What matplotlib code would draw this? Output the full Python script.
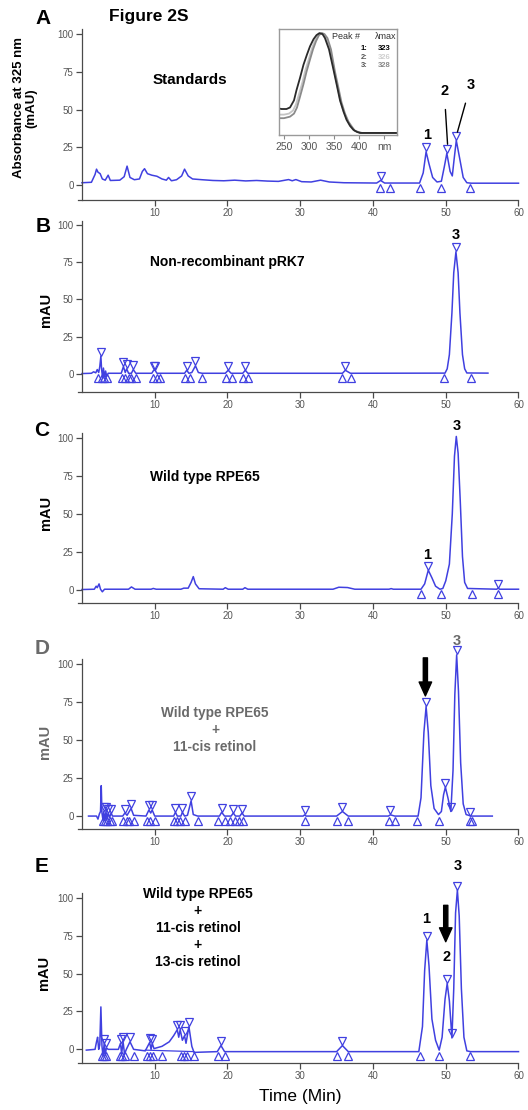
import matplotlib
matplotlib.use("Agg")
import matplotlib.pyplot as plt
from matplotlib.transforms import offset_copy

plt.rcParams["font.family"] = ["Liberation Sans", "DejaVu Sans"]

# ---------------- data ----------------
X_TICKS = [10, 20, 30, 40, 50, 60]
Y_TICKS = [0, 25, 50, 75, 100]

# A - standards
A_TIME = [0.0, 1.3, 1.8, 2.0, 2.2, 2.5, 2.8, 3.2, 3.6, 3.9, 5.2, 5.8, 6.2, 6.6, 7.2, 7.9,
          8.3, 8.6, 9.0, 9.6, 10.3, 11.0, 11.6, 11.9, 12.3, 13.0, 13.7, 14.1, 14.6, 15.2,
          16.5, 18.0, 19.5, 21.0, 22.5, 24.0, 25.5, 27.0, 28.4, 28.9, 29.4, 30.2, 31.5,
          32.8, 34.0, 36.0, 40.5, 41.05, 41.6, 46.4, 46.9, 47.3, 47.7, 48.2, 48.8, 49.4,
          49.8, 50.15, 50.6, 50.9, 51.15, 51.45, 51.9, 52.4, 52.9, 53.5, 60.0]
A_MAU = [1.5, 1.8, 7, 10.5, 8.5, 7.5, 4, 3.2, 6.5, 3, 3.2, 5.5, 12.5, 5, 3.5, 4,
         9, 10.8, 7.5, 6.5, 5.8, 4, 3.2, 5, 2.8, 3.5, 6, 10.5, 6, 4,
         3.5, 3, 2.8, 3.2, 2.7, 3, 2.6, 2.4, 3.6, 2.8, 3.6, 2.2, 2.0,
         3.2, 2.0, 1.5, 1.3, 3, 1.3, 1.3, 8, 22, 14, 5, 2, 2.5,
         12, 21, 9, 6, 17, 29.5, 18, 5, 1.5, 1.2, 1.2]
A_APEX_T = [41.05, 47.3, 50.15, 51.45]
A_APEX_Y = [3, 22, 21, 29.5]
A_BOUND_T = [41.0, 42.4, 46.4, 49.3, 53.3]
A_BASE = 1.3

# B - non-recombinant pRK7
B_TIME = [0.0, 1.3, 1.6, 1.9, 2.1, 2.3, 2.45, 2.6, 2.7, 2.85, 2.95, 3.1, 3.25, 3.4, 3.6,
          5.4, 5.7, 5.95, 6.15, 6.4, 6.8, 7.05, 7.4, 9.6, 9.85, 10.05, 10.3, 14.1, 14.4,
          14.7, 15.1, 15.6, 16.0, 16.5, 19.7, 20.1, 20.5, 22.1, 22.45, 22.8, 35.8, 36.2,
          36.9, 49.9, 50.2, 50.5, 50.85, 51.1, 51.4, 51.7, 51.95, 52.3, 52.6, 52.9, 55.8]
B_MAU = [0.3, 0.5, 1.5, 0.8, 3, 1, 5, 12, 3, -3, 4, -2, 2, -1.5, 0.5,
         0.5, 5, 1, 3.5, 0.5, 0.5, 3, 0.5, 0.5, 2.5, 2.5, 0.5, 0.5, 2.5,
         0.5, 1, 5.5, 1, 0.5, 0.5, 2.5, 0.5, 0.5, 2.5, 0.5, 0.5, 2.5,
         0.5, 0.6, 3.5, 13, 41, 68, 82, 68, 41, 13, 3.5, 0.7, 0.6]
B_APEX_T = [2.6, 5.7, 6.15, 7.05, 9.85, 10.05, 14.4, 15.6, 20.1, 22.45, 36.2, 51.4]
B_APEX_Y = [12, 5, 3.5, 3, 2.5, 2.5, 2.5, 5.5, 2.5, 2.5, 2.5, 82]
B_BOUND_T = [2.25, 2.7, 3.07, 3.4, 5.5, 5.9, 6.4, 6.75, 7.4, 9.7, 10.27, 10.73, 14.2,
             14.9, 16.5, 19.8, 20.6, 22.2, 22.8, 35.8, 37.0, 49.8, 53.5]
B_BASE = 0.5

# C - wild type RPE65
C_TIME = [0.0, 1.7, 1.95, 2.1, 2.35, 2.55, 2.8, 3.1, 6.4, 6.8, 7.3, 9.5, 9.8, 10.2, 13.6,
          14.0, 14.6, 15.0, 15.3, 15.6, 16.1, 19.4, 19.7, 20.1, 22.1, 22.4, 22.8, 34.5,
          35.3, 36.5, 37.5, 42.2, 42.5, 42.8, 46.6, 47.1, 47.6, 48.1, 48.6, 49.2, 49.6,
          50.0, 50.5, 50.9, 51.2, 51.45, 51.7, 52.0, 52.3, 52.6, 53.0, 57.0, 57.2, 57.4, 60.0]
C_MAU = [0.3, 0.5, 2.5, 1.5, 4, 0.5, -1.2, 0.5, 0.5, 2, 0.5, 0.5, 1, 0.5, 0.5,
         1.2, 1.2, 5, 8.8, 4, 0.8, 0.5, 1.5, 0.5, 0.5, 1.5, 0.5, 0.5,
         1.8, 1.6, 0.5, 0.5, 0.9, 0.5, 0.5, 4, 13, 8, 2.5, 0.5, 1,
         6, 17, 50, 88, 101, 90, 58, 22, 5, 1, 0.5, 1.2, 0.5, 0.5]
C_APEX_T = [47.6, 57.2]
C_APEX_Y = [13, 1.2]
C_BOUND_T = [46.6, 49.3, 53.6, 57.2]
C_BASE = 0.5

# D - wild type RPE65 + 11-cis retinol
D_TIME = [0.9, 2.0, 2.2, 2.4, 2.55, 2.65, 2.75, 2.9, 3.0, 3.15, 3.3, 3.45, 3.6, 3.8, 4.0,
          4.2, 5.6, 5.9, 6.2, 6.5, 6.75, 7.1, 8.8, 9.2, 9.45, 9.65, 10.0, 12.6, 12.85,
          13.1, 13.6, 13.8, 14.1, 14.5, 15.0, 15.3, 15.9, 18.9, 19.2, 19.6, 20.5, 20.8,
          21.1, 21.7, 22.0, 22.3, 30.4, 30.6, 30.8, 35.0, 35.8, 36.6, 42.1, 42.4, 43.0,
          46.2, 46.6, 47.0, 47.3, 47.6, 47.95, 48.4, 49.0, 49.4, 49.7, 49.95, 50.3, 50.7,
          51.0, 51.25, 51.5, 51.75, 52.05, 52.4, 52.8, 53.5, 56.4]
D_MAU = [0, 0, -2, 1.5, 3, 20, 2, -3, 3, -3, 3, -2, 2, -1, 2,
         0, 0, 2, 0.5, 3, 5, 0.5, 0, 4, 2, 4, 0, 0, 2.5,
         0, 0, 2.5, 0, 0.5, 10, 1, 0, 0, 2.5, 0, 0, 2,
         0, 0, 2, 0, 0, 0.8, 0, 0, 3, 0, 0, 0.8, 0,
         0, 12, 55, 72, 55, 20, 5, 1, 3, 14, 19, 12, 3,
         30, 80, 106, 82, 35, 8, 1, 0, 0]
D_APEX_T = [3.0, 3.3, 3.6, 4.0, 5.9, 6.75, 9.2, 9.65, 12.85, 13.8, 15.0, 19.2, 20.8,
            22.0, 30.6, 35.8, 42.4, 47.3, 49.95, 50.7, 51.5, 53.3]
D_APEX_Y = [3, 3, 2, 2, 2, 5, 4, 4, 2.5, 2.5, 10, 2.5, 2, 2, 0.8, 3, 0.8, 72, 19, 3,
            106, 0]
D_BOUND_T = [2.9, 3.2, 3.5, 3.9, 4.1, 5.7, 6.2, 6.4, 7.1, 8.9, 9.4, 10.0, 12.6, 13.1,
             13.5, 14.1, 15.9, 18.7, 19.7, 20.3, 21.0, 21.6, 22.2, 30.6, 35.1, 36.5,
             42.2, 43.0, 46.1, 49.1, 53.3, 53.6]
D_BASE = 0.0

# E - wild type RPE65 + 11-cis retinol + 13-cis retinol
E_TIME = [0.6, 1.8, 2.0, 2.15, 2.3, 2.45, 2.6, 2.75, 2.9, 3.05, 3.2, 3.35, 3.6, 5.0,
          5.3, 5.45, 5.65, 5.85, 6.1, 6.6, 7.1, 8.7, 9.3, 9.5, 9.65, 9.9, 11.0, 12.0,
          12.6, 13.1, 13.3, 13.5, 13.8, 14.1, 14.3, 14.7, 15.1, 15.4, 18.6, 19.1, 19.6,
          35.0, 35.8, 36.6, 46.3, 46.8, 47.1, 47.4, 47.7, 48.1, 48.6, 49.1, 49.5, 49.9,
          50.2, 50.5, 50.85, 51.1, 51.35, 51.6, 51.85, 52.15, 52.5, 52.9, 53.4, 60.0]
E_MAU = [-0.5, 0, 5, 8, 0, 3, 28, 2, -4.5, 4, -4, 1, 0, 0,
         4, -3, 5, -3, 0, 5, 0, -1, 4.5, 0, 4, 0.5, 2, 5,
         9, 13, 8, 13, 6, 9, 4, 15, 2, -2, -1.5, 2.5, -1.5,
         -1.5, 2.5, -1.5, -1.5, 15, 52, 72, 55, 20, 6, -0.5, 8, 33,
         43.5, 32, 7.5, 40, 90, 105, 88, 40, 8, -1, -1.5, -1.5]
E_BASE_T = [8.7, 15.4]
E_BASE_Y = [-0.5, -1.5]
E_APEX_T = [3.05, 3.3, 5.3, 5.65, 6.6, 9.3, 9.65, 13.1, 13.5, 14.1, 14.7, 19.1, 35.8,
            47.4, 50.2, 50.85, 51.6]
E_APEX_Y = [4, 1, 4, 5, 5, 4.5, 4, 13, 13, 9, 15, 2.5, 2.5, 72, 43.5, 7.5, 105]
E_BOUND_T = [2.8, 3.0, 3.3, 5.2, 5.5, 5.9, 7.1, 8.9, 9.4, 9.8, 11.0, 13.6, 14.0, 14.4,
             15.4, 18.7, 19.6, 35.0, 36.6, 46.4, 49.1, 53.4]
E_BASE = -1.5

# inset: UV spectra of the three standards
SPEC1_NM = [240, 245, 255, 262, 270, 275, 282, 289, 296, 302, 309, 315, 321, 327, 332,
            340, 349, 356, 362, 369, 375, 382, 389, 396, 402, 420, 476]
SPEC1_ABS = [0.26, 0.255, 0.255, 0.27, 0.34, 0.44, 0.56, 0.69, 0.79, 0.87, 0.94, 0.98,
             1.0, 0.99, 0.95, 0.84, 0.64, 0.48, 0.34, 0.23, 0.15, 0.09, 0.05, 0.03,
             0.02, 0.02, 0.02]
SPEC2_NM = [240, 250, 260, 268, 274, 280, 287, 293, 300, 306, 312, 318, 324, 329, 335,
            342, 350, 357, 363, 370, 377, 384, 390, 397, 404, 420, 476]
SPEC2_ABS = [0.2, 0.2, 0.21, 0.24, 0.3, 0.4, 0.52, 0.64, 0.75, 0.85, 0.93, 0.98, 1.0,
             0.99, 0.95, 0.84, 0.63, 0.47, 0.33, 0.22, 0.14, 0.08, 0.045, 0.03, 0.02,
             0.02, 0.02]
SPEC3_NM = [240, 250, 262, 270, 276, 282, 289, 295, 302, 308, 314, 320, 326, 331, 337,
            344, 352, 359, 365, 372, 379, 386, 392, 399, 406, 420, 476]
SPEC3_ABS = [0.165, 0.165, 0.18, 0.21, 0.27, 0.375, 0.5, 0.62, 0.74, 0.84, 0.92, 0.98,
             1.0, 0.99, 0.95, 0.84, 0.62, 0.46, 0.32, 0.21, 0.13, 0.08, 0.04, 0.03,
             0.02, 0.02, 0.02]
INSET_TICKS = [250, 300, 350, 400, 450]
INSET_LABELS = ["250", "300", "350", "400", "nm"]
INSET_ROWS = [("1:", "323"), ("2:", "326"), ("3:", "328")]

# ---------------- figure ----------------
W, H = 528, 1110
BLUE = "#4040e0"
AXC = "#4a4a4a"
GREY_TXT = "#6a6a6a"

fig = plt.figure(figsize=(W / 100, H / 100), dpi=100)


def fxy(px, py):
    return px / W, 1 - py / H


def axes_px(left, top, right, bottom):
    return fig.add_axes([left / W, 1 - bottom / H, (right - left) / W, (bottom - top) / H])


def style_axes(ax, ybot):
    ax.set_xlim(-0.6, 60)
    ax.set_ylim(ybot, 103)
    ax.patch.set_visible(False)
    for s in ("top", "right"):
        ax.spines[s].set_visible(False)
    ax.spines["left"].set_position(("data", 0))
    for s in ("left", "bottom"):
        ax.spines[s].set_color(AXC)
        ax.spines[s].set_linewidth(0.9)
    ax.set_xticks(X_TICKS)
    ax.set_yticks(Y_TICKS)
    ax.tick_params(direction="out", length=4, width=0.9, colors=AXC,
                   labelsize=7, pad=2)
    for lab in ax.get_xticklabels() + ax.get_yticklabels():
        lab.set_color("#555555")


def draw_trace(ax, t, y, apex_t, apex_y, bound_t, base):
    ax.plot(t, y, color=BLUE, lw=1.1, clip_on=False)
    up = offset_copy(ax.transData, fig=fig, y=4.5, units="dots")
    down = offset_copy(ax.transData, fig=fig, y=-4.5, units="dots")
    ax.plot(apex_t, apex_y, "v", ms=5.3, mfc="none", mec=BLUE, mew=0.9,
            transform=up, clip_on=False)
    ax.plot(bound_t, [base] * len(bound_t), "^", ms=5.3, mfc="none", mec=BLUE,
            mew=0.9, transform=down, clip_on=False)


def peak_label(ax, txt, x, y, color="black"):
    ax.text(x, y, txt, ha="center", va="center", fontsize=10.5, fontweight="bold",
            color=color, clip_on=False)


def down_arrow(ax, x, y0, y1):
    ax.annotate("", xy=(x, y1), xytext=(x, y0), annotation_clip=False,
                arrowprops=dict(facecolor="black", edgecolor="black", width=3,
                                headwidth=9, headlength=10, shrink=0))


# panel rectangles in pixels (left, top, right, bottom) and y-axis bottom
layout = [
    ((77.6, 29.5, 518.5, 200.1), -10),
    ((77.6, 220.5, 518.5, 391.9), -12),
    ((77.6, 433.4, 518.5, 602.9), -8.5),
    ((77.6, 659.4, 518.5, 829.0), -8.5),
    ((77.6, 893.2, 518.5, 1063.0), -9),
]
traces = [
    (A_TIME, A_MAU, A_APEX_T, A_APEX_Y, A_BOUND_T, A_BASE),
    (B_TIME, B_MAU, B_APEX_T, B_APEX_Y, B_BOUND_T, B_BASE),
    (C_TIME, C_MAU, C_APEX_T, C_APEX_Y, C_BOUND_T, C_BASE),
    (D_TIME, D_MAU, D_APEX_T, D_APEX_Y, D_BOUND_T, D_BASE),
    (E_TIME, E_MAU, E_APEX_T, E_APEX_Y, E_BOUND_T, E_BASE),
]

axes = []
for (rect, ybot), tr in zip(layout, traces):
    ax = axes_px(*rect)
    style_axes(ax, ybot)
    draw_trace(ax, *tr)
    axes.append(ax)

axA, axB, axC, axD, axE = axes

# integration baseline under the hump in E
axE.plot(E_BASE_T, E_BASE_Y, color=BLUE, lw=0.9)

# peak labels and arrows
peak_label(axA, "1", 47.4, 33)
axA.annotate("2", xy=(50.25, 27), xytext=(49.8, 62), ha="center", va="center",
             fontsize=10.5, fontweight="bold",
             arrowprops=dict(arrowstyle="-", lw=1, color="black", shrinkA=6, shrinkB=0))
axA.annotate("3", xy=(51.6, 35), xytext=(53.4, 66), ha="center", va="center",
             fontsize=10.5, fontweight="bold",
             arrowprops=dict(arrowstyle="-", lw=1, color="black", shrinkA=6, shrinkB=0))
peak_label(axB, "3", 51.4, 93)
peak_label(axC, "1", 47.5, 23)
peak_label(axC, "3", 51.45, 108)
peak_label(axD, "3", 51.5, 115, color=GREY_TXT)
down_arrow(axD, 47.2, 104, 79)
peak_label(axE, "1", 47.3, 86)
peak_label(axE, "2", 50.1, 61)
peak_label(axE, "3", 51.6, 121)
down_arrow(axE, 50.0, 95, 71)

# inset spectra
ins = axes_px(279, 29, 397, 135)
ins.plot(SPEC2_NM, SPEC2_ABS, color="#c4c4c4", lw=1.3)
ins.plot(SPEC3_NM, SPEC3_ABS, color="#8a8a8a", lw=1.3)
ins.plot(SPEC1_NM, SPEC1_ABS, color="#2a2a2a", lw=1.3)
ins.set_xlim(240, 476)
ins.set_ylim(0, 1.04)
ins.set_yticks([])
ins.set_xticks(INSET_TICKS)
ins.set_xticklabels(INSET_LABELS)
ins.tick_params(axis="x", direction="out", length=3, width=0.8, colors="#888888",
                labelsize=7.5, pad=2)
for lab in ins.get_xticklabels():
    lab.set_color("#555555")
for s in ins.spines.values():
    s.set_color("#9a9a9a")
    s.set_linewidth(1.0)

tx = ins.transAxes
ins.text(0.57, 0.925, "Peak #", transform=tx, fontsize=6.5, ha="center", va="center",
         color="#333333")
ins.text(0.905, 0.925, "\u03bbmax", transform=tx, fontsize=6.5, ha="center",
         va="center", color="#333333")
row_colors = [("black", "black"), ("#555555", "#cfcfcf"), ("#555555", "#8a8a8a")]
for i, ((a, b), (ca, cb)) in enumerate(zip(INSET_ROWS, row_colors)):
    yy = 0.815 - i * 0.08
    ins.text(0.72, yy, a, transform=tx, fontsize=5.5, ha="center", va="center",
             color=ca, fontweight="bold")
    ins.text(0.895, yy, b, transform=tx, fontsize=5.5, ha="center", va="center",
             color=cb, fontweight="bold")

# panel letters and captions
for letter, (px, py), col in [("A", (43, 18), "black"), ("B", (43, 226), "black"),
                              ("C", (42, 430), "black"), ("D", (42, 648), GREY_TXT),
                              ("E", (42, 867), "black")]:
    fig.text(*fxy(px, py), letter, fontsize=15, fontweight="bold", ha="center",
             va="center", color=col)

fig.text(*fxy(149, 16), "Figure 2S", fontsize=12.5, fontweight="bold", ha="center",
         va="center")
fig.text(*fxy(190, 80), "Standards", fontsize=11, fontweight="bold", ha="center",
         va="center")
fig.text(*fxy(227, 262), "Non-recombinant pRK7", fontsize=10, fontweight="bold",
         ha="center", va="center")
fig.text(*fxy(205, 477), "Wild type RPE65", fontsize=10, fontweight="bold",
         ha="center", va="center")
fig.text(*fxy(215, 730), "Wild type RPE65\n+\n11-cis retinol", fontsize=9.8,
         fontweight="bold", ha="center", va="center", multialignment="center",
         linespacing=1.25, color=GREY_TXT)
fig.text(*fxy(198, 928), "Wild type RPE65\n+\n11-cis retinol\n+\n13-cis retinol",
         fontsize=10, fontweight="bold", ha="center", va="center",
         multialignment="center", linespacing=1.27)

# axis titles
fig.text(*fxy(25, 108), "Absorbance at 325 nm\n(mAU)", rotation=90, fontsize=9.5,
         fontweight="bold", ha="center", va="center", multialignment="center",
         linespacing=1.0)
for (px, py), col in [((46, 310), "black"), ((46, 513), "black"),
                      ((45, 742), GREY_TXT), ((44, 973), "black")]:
    fig.text(*fxy(px, py), "mAU", rotation=90, fontsize=10.5, fontweight="bold",
             ha="center", va="center", color=col)
fig.text(*fxy(300, 1097), "Time (Min)", fontsize=12.5, ha="center", va="center")

fig.savefig("out.png", dpi=100)
